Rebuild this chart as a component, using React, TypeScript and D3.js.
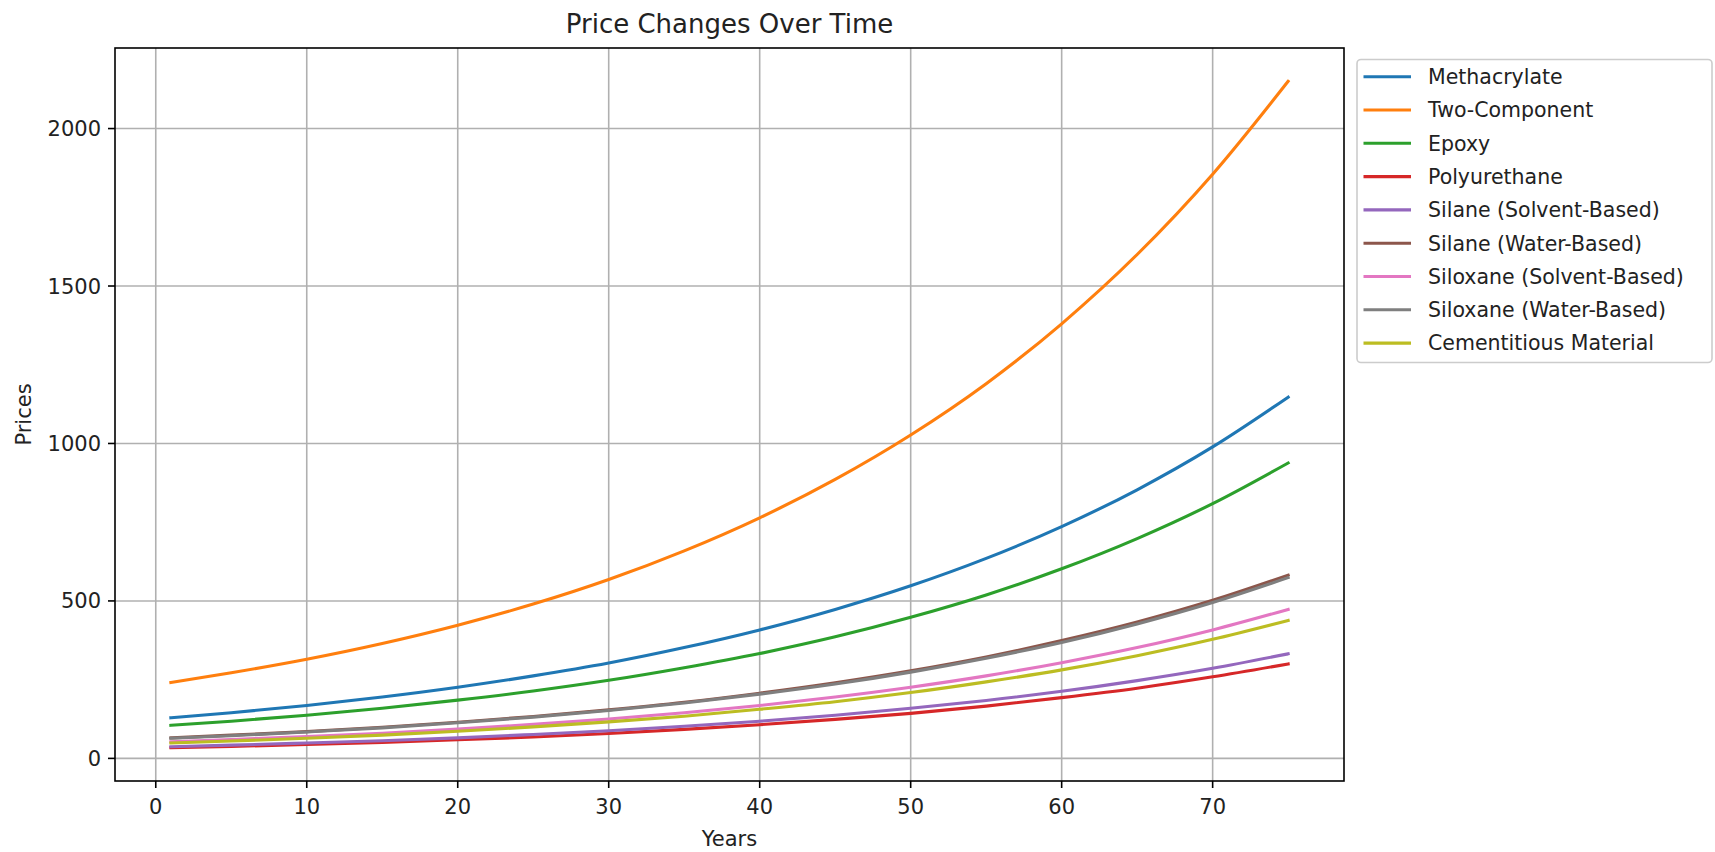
import React from "react";
import * as d3 from "d3";

const years = [1, 5, 10, 15, 20, 25, 30, 35, 40, 45, 50, 55, 60, 65, 70, 75];

const methacrylate = [129, 145, 168, 195, 226, 262, 303, 352, 408, 473, 548, 635, 736, 853, 989, 1147];
const twoComponent = [241, 272, 315, 365, 423, 490, 568, 659, 764, 886, 1027, 1190, 1380, 1600, 1855, 2150];
const epoxy = [105, 118, 137, 159, 185, 214, 248, 288, 333, 386, 448, 519, 602, 698, 809, 938];
const polyurethane = [34, 38, 44, 51, 59, 68, 79, 92, 107, 124, 143, 166, 193, 223, 259, 300];
const silaneSolvent = [37, 42, 49, 56, 65, 76, 88, 102, 118, 137, 159, 184, 213, 247, 286, 332];
const silaneWater = [65, 74, 85, 99, 115, 133, 154, 178, 207, 240, 278, 322, 374, 433, 502, 582];
const siloxaneSolvent = [53, 60, 69, 80, 93, 108, 125, 145, 168, 195, 226, 262, 304, 352, 408, 473];
const siloxaneWater = [64, 72, 84, 97, 113, 131, 152, 176, 204, 236, 274, 318, 368, 427, 495, 574];
const cementitious = [49, 55, 64, 74, 86, 100, 116, 134, 156, 180, 209, 243, 281, 326, 378, 438];

const seriesNames = [
  "Methacrylate",
  "Two-Component",
  "Epoxy",
  "Polyurethane",
  "Silane (Solvent-Based)",
  "Silane (Water-Based)",
  "Siloxane (Solvent-Based)",
  "Siloxane (Water-Based)",
  "Cementitious Material",
];
const seriesValues = [
  methacrylate,
  twoComponent,
  epoxy,
  polyurethane,
  silaneSolvent,
  silaneWater,
  siloxaneSolvent,
  siloxaneWater,
  cementitious,
];
const colors = ["#1f77b4", "#ff7f0e", "#2ca02c", "#d62728", "#9467bd", "#8c564b", "#e377c2", "#7f7f7f", "#bcbd22"];

const xTicks = [0, 10, 20, 30, 40, 50, 60, 70];
const yTicks = [0, 500, 1000, 1500, 2000];

const W = 1715;
const H = 852;
const left = 115;
const right = 1344;
const top = 48;
const bottom = 781;
const FONT = "DejaVu Sans, sans-serif";

export default function App() {
  React.useEffect(() => {
    document.body.style.margin = "0";
  }, []);

  const allVals = seriesValues.flat();
  const xMin = d3.min(years)!;
  const xMax = d3.max(years)!;
  const yMin = d3.min(allVals)!;
  const yMax = d3.max(allVals)!;
  const xPad = (xMax - xMin) * 0.05;
  const yPad = (yMax - yMin) * 0.05;

  const x = d3.scaleLinear().domain([xMin - xPad, xMax + xPad]).range([left, right]);
  const y = d3.scaleLinear().domain([yMin - yPad, yMax + yPad]).range([bottom, top]);

  const line = d3
    .line<number>()
    .x((_, i) => x(years[i]))
    .y((d) => y(d))
    .curve(d3.curveMonotoneX);

  const legX = 1357;
  const legY = 59.5;
  const legW = 355;
  const legH = 303;
  const rowH = 33.3;

  return (
    <svg
      width={W}
      height={H}
      style={{ position: "absolute", left: 0, top: 0, display: "block", background: "#fff" }}
      fontFamily={FONT}
    >
      <rect x={0} y={0} width={W} height={H} fill="#fff" />
      {/* grid */}
      {xTicks.map((t) => (
        <line key={"gx" + t} x1={x(t)} x2={x(t)} y1={top} y2={bottom} stroke="#b0b0b0" strokeWidth={1.6} />
      ))}
      {yTicks.map((t) => (
        <line key={"gy" + t} x1={left} x2={right} y1={y(t)} y2={y(t)} stroke="#b0b0b0" strokeWidth={1.6} />
      ))}
      {/* lines */}
      <g clipPath="url(#clip)">
        {seriesValues.map((vals, i) => (
          <path
            key={seriesNames[i]}
            d={line(vals) || ""}
            fill="none"
            stroke={colors[i]}
            strokeWidth={3.1}
            strokeLinecap="square"
            strokeLinejoin="round"
          />
        ))}
      </g>
      <defs>
        <clipPath id="clip">
          <rect x={left} y={top} width={right - left} height={bottom - top} />
        </clipPath>
      </defs>
      {/* spines */}
      <rect x={left} y={top} width={right - left} height={bottom - top} fill="none" stroke="#000" strokeWidth={1.6} />
      {/* x ticks */}
      {xTicks.map((t) => (
        <g key={"xt" + t}>
          <line x1={x(t)} x2={x(t)} y1={bottom} y2={bottom + 7} stroke="#000" strokeWidth={1.6} />
          <text x={x(t)} y={814} textAnchor="middle" fontSize={21} fill="#222">
            {t}
          </text>
        </g>
      ))}
      {/* y ticks */}
      {yTicks.map((t) => (
        <g key={"yt" + t}>
          <line x1={left - 7} x2={left} y1={y(t)} y2={y(t)} stroke="#000" strokeWidth={1.6} />
          <text x={101} y={y(t)} dy="0.36em" textAnchor="end" fontSize={21} fill="#222">
            {t}
          </text>
        </g>
      ))}
      {/* labels */}
      <text x={(left + right) / 2} y={846} textAnchor="middle" fontSize={21} fill="#222">
        Years
      </text>
      <text
        transform={`translate(31,${(top + bottom) / 2}) rotate(-90)`}
        textAnchor="middle"
        fontSize={21}
        fill="#222"
      >
        Prices
      </text>
      <text x={(left + right) / 2} y={33} textAnchor="middle" fontSize={26} fill="#222">
        Price Changes Over Time
      </text>
      {/* legend */}
      <rect
        x={legX}
        y={legY}
        width={legW}
        height={legH}
        rx={4}
        ry={4}
        fill="#fff"
        fillOpacity={0.8}
        stroke="#cccccc"
        strokeWidth={1.6}
      />
      {seriesNames.map((name, i) => {
        const cy = legY + 17.2 + i * rowH;
        return (
          <g key={"leg" + name}>
            <line x1={1363.5} x2={1411} y1={cy} y2={cy} stroke={colors[i]} strokeWidth={3.1} />
            <text x={1428} y={cy} dy="0.36em" fontSize={20.5} fill="#222">
              {name}
            </text>
          </g>
        );
      })}
    </svg>
  );
}
